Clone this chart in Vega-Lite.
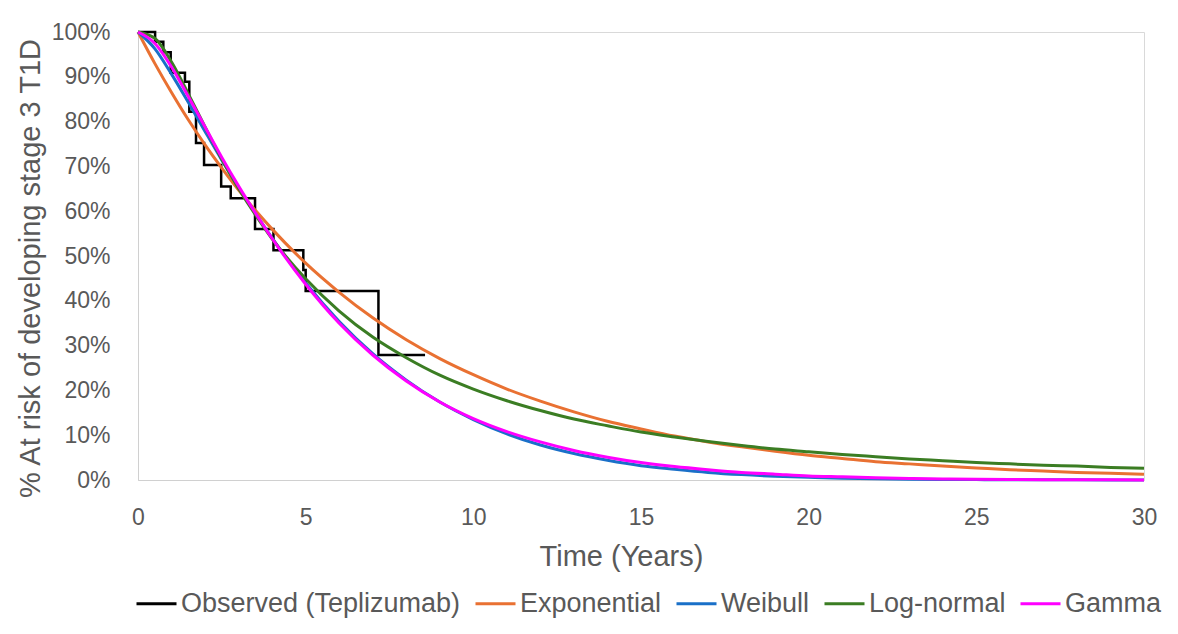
{
  "$schema": "https://vega.github.io/schema/vega-lite/v6.json",
  "width": 1006,
  "height": 448,
  "autosize": {"type": "none"},
  "padding": {"left": 138, "top": 32, "right": 34, "bottom": 154},
  "background": "white",
  "config": {
    "view": {"stroke": "#D9D9D9", "strokeWidth": 1},
    "axis": {"grid": false, "ticks": false, "domainColor": "#D0D0D0", "labelColor": "#595959", "titleColor": "#595959", "titleFontWeight": "normal"}
  },
  "datasets": {
    "observed": [
      {"series": "Observed (Teplizumab)", "t": 0, "v": 100},
      {"series": "Observed (Teplizumab)", "t": 0.51, "v": 97.8},
      {"series": "Observed (Teplizumab)", "t": 0.755, "v": 95.5},
      {"series": "Observed (Teplizumab)", "t": 0.975, "v": 90.9},
      {"series": "Observed (Teplizumab)", "t": 1.4, "v": 88.9},
      {"series": "Observed (Teplizumab)", "t": 1.53, "v": 82.2},
      {"series": "Observed (Teplizumab)", "t": 1.73, "v": 75.2},
      {"series": "Observed (Teplizumab)", "t": 1.97, "v": 70.3},
      {"series": "Observed (Teplizumab)", "t": 2.48, "v": 65.5},
      {"series": "Observed (Teplizumab)", "t": 2.765, "v": 62.9},
      {"series": "Observed (Teplizumab)", "t": 3.49, "v": 56.0},
      {"series": "Observed (Teplizumab)", "t": 4.04, "v": 51.3},
      {"series": "Observed (Teplizumab)", "t": 4.93, "v": 46.9},
      {"series": "Observed (Teplizumab)", "t": 5.0, "v": 42.2},
      {"series": "Observed (Teplizumab)", "t": 7.17, "v": 27.9},
      {"series": "Observed (Teplizumab)", "t": 8.56, "v": 27.9}
    ],
    "curves": [
      {"series": "Exponential", "t": 0, "v": 100},
      {"series": "Exponential", "t": 0.5, "v": 93.0},
      {"series": "Exponential", "t": 1, "v": 86.5},
      {"series": "Exponential", "t": 1.5, "v": 80.4},
      {"series": "Exponential", "t": 2, "v": 74.8},
      {"series": "Exponential", "t": 2.5, "v": 69.6},
      {"series": "Exponential", "t": 3, "v": 64.7},
      {"series": "Exponential", "t": 3.5, "v": 60.2},
      {"series": "Exponential", "t": 4, "v": 56.0},
      {"series": "Exponential", "t": 5, "v": 48.4},
      {"series": "Exponential", "t": 6, "v": 41.9},
      {"series": "Exponential", "t": 7, "v": 36.2},
      {"series": "Exponential", "t": 8, "v": 31.3},
      {"series": "Exponential", "t": 9, "v": 27.1},
      {"series": "Exponential", "t": 10, "v": 23.5},
      {"series": "Exponential", "t": 11, "v": 20.3},
      {"series": "Exponential", "t": 12, "v": 17.6},
      {"series": "Exponential", "t": 13, "v": 15.2},
      {"series": "Exponential", "t": 14, "v": 13.1},
      {"series": "Exponential", "t": 15, "v": 11.4},
      {"series": "Exponential", "t": 16, "v": 9.8},
      {"series": "Exponential", "t": 17, "v": 8.5},
      {"series": "Exponential", "t": 18, "v": 7.4},
      {"series": "Exponential", "t": 19, "v": 6.4},
      {"series": "Exponential", "t": 20, "v": 5.5},
      {"series": "Exponential", "t": 21, "v": 4.8},
      {"series": "Exponential", "t": 22, "v": 4.1},
      {"series": "Exponential", "t": 23, "v": 3.6},
      {"series": "Exponential", "t": 24, "v": 3.1},
      {"series": "Exponential", "t": 25, "v": 2.7},
      {"series": "Exponential", "t": 26, "v": 2.3},
      {"series": "Exponential", "t": 27, "v": 2.0},
      {"series": "Exponential", "t": 28, "v": 1.7},
      {"series": "Exponential", "t": 29, "v": 1.5},
      {"series": "Exponential", "t": 30, "v": 1.3},
      {"series": "Weibull", "t": 0, "v": 100},
      {"series": "Weibull", "t": 0.5, "v": 96.3},
      {"series": "Weibull", "t": 1, "v": 90.6},
      {"series": "Weibull", "t": 1.5, "v": 84.3},
      {"series": "Weibull", "t": 2, "v": 77.8},
      {"series": "Weibull", "t": 2.5, "v": 71.4},
      {"series": "Weibull", "t": 3, "v": 65.3},
      {"series": "Weibull", "t": 3.5, "v": 59.5},
      {"series": "Weibull", "t": 4, "v": 54.0},
      {"series": "Weibull", "t": 5, "v": 44.0},
      {"series": "Weibull", "t": 6, "v": 35.4},
      {"series": "Weibull", "t": 7, "v": 28.2},
      {"series": "Weibull", "t": 8, "v": 22.3},
      {"series": "Weibull", "t": 9, "v": 17.4},
      {"series": "Weibull", "t": 10, "v": 13.5},
      {"series": "Weibull", "t": 11, "v": 10.3},
      {"series": "Weibull", "t": 12, "v": 7.8},
      {"series": "Weibull", "t": 13, "v": 5.9},
      {"series": "Weibull", "t": 14, "v": 4.4},
      {"series": "Weibull", "t": 15, "v": 3.2},
      {"series": "Weibull", "t": 16, "v": 2.4},
      {"series": "Weibull", "t": 17, "v": 1.7},
      {"series": "Weibull", "t": 18, "v": 1.2},
      {"series": "Weibull", "t": 19, "v": 0.85},
      {"series": "Weibull", "t": 20, "v": 0.6},
      {"series": "Weibull", "t": 21, "v": 0.4},
      {"series": "Weibull", "t": 22, "v": 0.28},
      {"series": "Weibull", "t": 23, "v": 0.19},
      {"series": "Weibull", "t": 24, "v": 0.13},
      {"series": "Weibull", "t": 25, "v": 0.09},
      {"series": "Weibull", "t": 26, "v": 0.06},
      {"series": "Weibull", "t": 27, "v": 0.04},
      {"series": "Weibull", "t": 28, "v": 0.03},
      {"series": "Weibull", "t": 29, "v": 0.02},
      {"series": "Weibull", "t": 30, "v": 0.01},
      {"series": "Log-normal", "t": 0, "v": 100},
      {"series": "Log-normal", "t": 0.5, "v": 98.6},
      {"series": "Log-normal", "t": 1, "v": 93.3},
      {"series": "Log-normal", "t": 1.5, "v": 86.2},
      {"series": "Log-normal", "t": 2, "v": 78.8},
      {"series": "Log-normal", "t": 2.5, "v": 71.6},
      {"series": "Log-normal", "t": 3, "v": 65.1},
      {"series": "Log-normal", "t": 3.5, "v": 59.2},
      {"series": "Log-normal", "t": 4, "v": 53.8},
      {"series": "Log-normal", "t": 5, "v": 44.9},
      {"series": "Log-normal", "t": 6, "v": 37.7},
      {"series": "Log-normal", "t": 7, "v": 31.9},
      {"series": "Log-normal", "t": 8, "v": 27.3},
      {"series": "Log-normal", "t": 9, "v": 23.4},
      {"series": "Log-normal", "t": 10, "v": 20.3},
      {"series": "Log-normal", "t": 11, "v": 17.7},
      {"series": "Log-normal", "t": 12, "v": 15.5},
      {"series": "Log-normal", "t": 13, "v": 13.6},
      {"series": "Log-normal", "t": 14, "v": 12.1},
      {"series": "Log-normal", "t": 15, "v": 10.7},
      {"series": "Log-normal", "t": 16, "v": 9.6},
      {"series": "Log-normal", "t": 17, "v": 8.6},
      {"series": "Log-normal", "t": 18, "v": 7.7},
      {"series": "Log-normal", "t": 19, "v": 6.9},
      {"series": "Log-normal", "t": 20, "v": 6.3},
      {"series": "Log-normal", "t": 21, "v": 5.7},
      {"series": "Log-normal", "t": 22, "v": 5.2},
      {"series": "Log-normal", "t": 23, "v": 4.7},
      {"series": "Log-normal", "t": 24, "v": 4.3},
      {"series": "Log-normal", "t": 25, "v": 3.9},
      {"series": "Log-normal", "t": 26, "v": 3.6},
      {"series": "Log-normal", "t": 27, "v": 3.3},
      {"series": "Log-normal", "t": 28, "v": 3.1},
      {"series": "Log-normal", "t": 29, "v": 2.8},
      {"series": "Log-normal", "t": 30, "v": 2.6},
      {"series": "Gamma", "t": 0, "v": 100},
      {"series": "Gamma", "t": 0.5, "v": 97.5},
      {"series": "Gamma", "t": 1, "v": 92.2},
      {"series": "Gamma", "t": 1.5, "v": 85.6},
      {"series": "Gamma", "t": 2, "v": 78.8},
      {"series": "Gamma", "t": 2.5, "v": 72.0},
      {"series": "Gamma", "t": 3, "v": 65.6},
      {"series": "Gamma", "t": 3.5, "v": 59.6},
      {"series": "Gamma", "t": 4, "v": 53.9},
      {"series": "Gamma", "t": 5, "v": 43.7},
      {"series": "Gamma", "t": 6, "v": 35.0},
      {"series": "Gamma", "t": 7, "v": 27.9},
      {"series": "Gamma", "t": 8, "v": 22.1},
      {"series": "Gamma", "t": 9, "v": 17.4},
      {"series": "Gamma", "t": 10, "v": 13.7},
      {"series": "Gamma", "t": 11, "v": 10.8},
      {"series": "Gamma", "t": 12, "v": 8.5},
      {"series": "Gamma", "t": 13, "v": 6.6},
      {"series": "Gamma", "t": 14, "v": 5.1},
      {"series": "Gamma", "t": 15, "v": 3.9},
      {"series": "Gamma", "t": 16, "v": 3.0},
      {"series": "Gamma", "t": 17, "v": 2.3},
      {"series": "Gamma", "t": 18, "v": 1.7},
      {"series": "Gamma", "t": 19, "v": 1.3},
      {"series": "Gamma", "t": 20, "v": 0.9},
      {"series": "Gamma", "t": 21, "v": 0.7},
      {"series": "Gamma", "t": 22, "v": 0.5},
      {"series": "Gamma", "t": 23, "v": 0.35},
      {"series": "Gamma", "t": 24, "v": 0.25},
      {"series": "Gamma", "t": 25, "v": 0.15},
      {"series": "Gamma", "t": 26, "v": 0.1},
      {"series": "Gamma", "t": 27, "v": 0.07},
      {"series": "Gamma", "t": 28, "v": 0.05},
      {"series": "Gamma", "t": 29, "v": 0.03},
      {"series": "Gamma", "t": 30, "v": 0.02}
    ]
  },
  "encoding": {
    "x": {
      "field": "t", "type": "quantitative",
      "scale": {"domain": [0, 30], "nice": false},
      "axis": {"values": [0, 5, 10, 15, 20, 25, 30], "labelFlush": false, "title": "Time (Years)", "labelFont": "Liberation Sans", "labelFontSize": 23, "labelPadding": 26, "titleFont": "Liberation Sans", "titleFontSize": 29, "titlePadding": 13, "titleX": 483}
    },
    "y": {
      "field": "v", "type": "quantitative",
      "scale": {"domain": [0, 100], "nice": false},
      "axis": {"values": [0, 10, 20, 30, 40, 50, 60, 70, 80, 90, 100], "labelExpr": "datum.value + '%'", "title": "% At risk of developing stage 3 T1D", "labelFont": "Liberation Sans", "labelFontSize": 23, "labelPadding": 28, "titleFont": "Liberation Sans", "titleFontSize": 29, "titlePadding": 6, "titleY": 236}
    },
    "color": {
      "field": "series", "type": "nominal",
      "scale": {"domain": ["Observed (Teplizumab)", "Exponential", "Weibull", "Log-normal", "Gamma"], "range": ["#000000", "#E97132", "#1A70C8", "#3B7D23", "#FF00FF"]},
      "legend": {"title": null, "orient": "none", "legendX": -3, "legendY": 550, "direction": "horizontal", "symbolType": "stroke", "symbolSize": 1600, "symbolStrokeWidth": 3, "labelFont": "Liberation Sans", "labelFontSize": 27, "labelColor": "#595959", "labelOffset": 3, "labelLimit": 500, "columnPadding": 8, "symbolLimit": 0}
    }
  },
  "layer": [
    {"data": {"name": "observed"}, "mark": {"type": "line", "interpolate": "step-after", "strokeWidth": 2.5}},
    {"data": {"name": "curves"}, "mark": {"type": "line", "interpolate": "monotone", "strokeWidth": 3}}
  ]
}
